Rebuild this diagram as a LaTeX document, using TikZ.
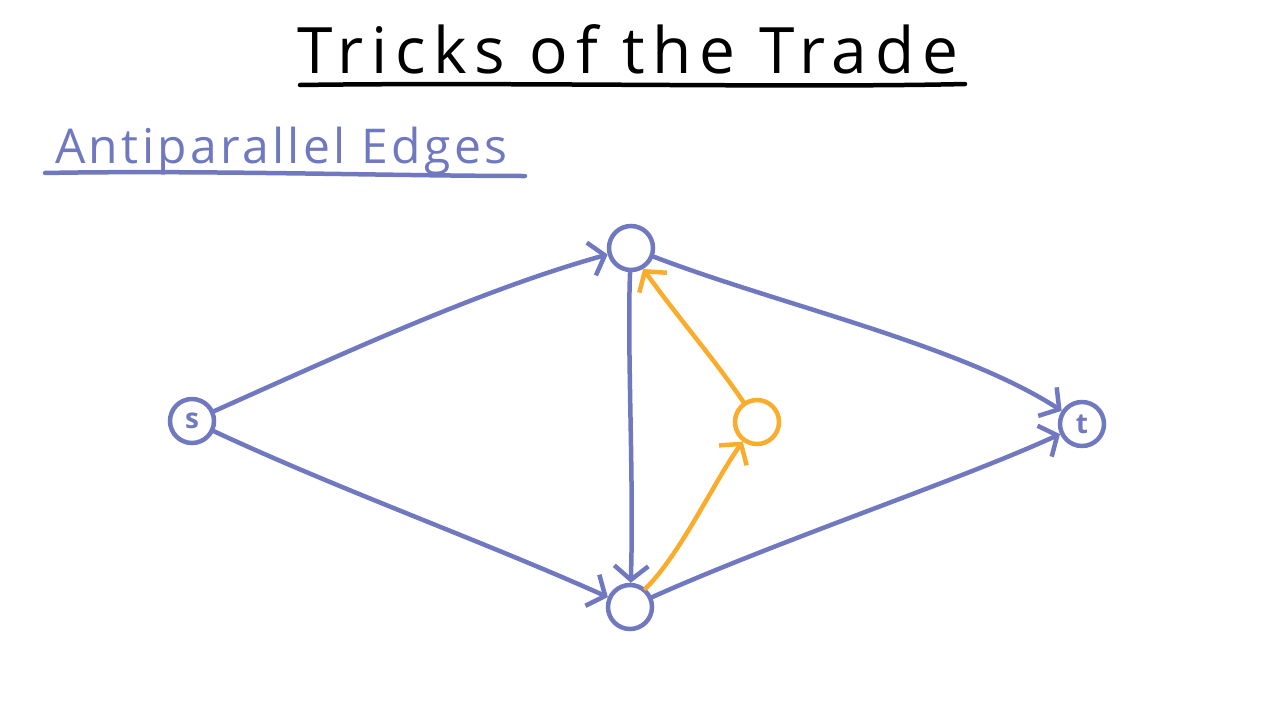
\documentclass[tikz,border=0pt]{standalone}
\usepackage{fontspec}
\setmainfont{Open Sans}
\newfontfamily\titlefont[LetterSpace=12]{Open Sans}
\newfontfamily\subfont[LetterSpace=7]{Open Sans}
\usetikzlibrary{arrows.meta}
\definecolor{eblue}{RGB}{112,121,192}
\definecolor{eorange}{RGB}{250,172,45}
\begin{document}
\begin{tikzpicture}[x=1pt,y=-1pt,
  vtx/.style={circle,draw=eblue,line width=4.5pt,minimum size=44pt,inner sep=0pt,text=eblue,font=\bfseries\fontsize{28}{28}\selectfont},
  ovtx/.style={vtx,draw=eorange},
  edge/.style={draw=eblue,line width=4.5pt,line cap=round,-{Straight Barb[length=14pt,width=34pt,line width=4.5pt]}},
  oedge/.style={edge,draw=eorange}]
\useasboundingbox (0,0) rectangle (1280,720);
\node[font=\titlefont\fontsize{64}{64}\selectfont,anchor=base] (title) at (628,73) {Tricks of the Trade};
\draw[line width=4.5pt,line cap=round] (300,85) .. controls (500,82) and (800,88) .. (965,84);
\node[font=\subfont\fontsize{48}{48}\selectfont,text=eblue,anchor=base west,inner sep=0pt] (sub) at (55,163) {Antiparallel Edges};
\draw[eblue,line width=4.5pt,line cap=round] (45,173) .. controls (200,170) and (400,176) .. (525,176);
\node[vtx] (s) at (192,421) {s};
\node[vtx] (a) at (631,248) {};
\node[vtx] (b) at (630,607) {};
\node[ovtx] (c) at (757,422) {};
\node[vtx] (t) at (1082,424) {t};
\draw[edge] (s) .. controls (340,355) and (480,290) .. (a);
\draw[edge] (a) .. controls (780,305) and (960,345) .. (t);
\draw[edge] (s) .. controls (340,490) and (480,540) .. (b);
\draw[edge] (b) .. controls (780,540) and (960,480) .. (t);
\draw[edge] (a) .. controls (627,350) and (634,480) .. (b);
\draw[oedge] (b.50) .. controls (680,555) and (715,480) .. (c);
\draw[oedge] (c) .. controls (715,360) and (680,320) .. (a.-60);
\end{tikzpicture}
\end{document}
